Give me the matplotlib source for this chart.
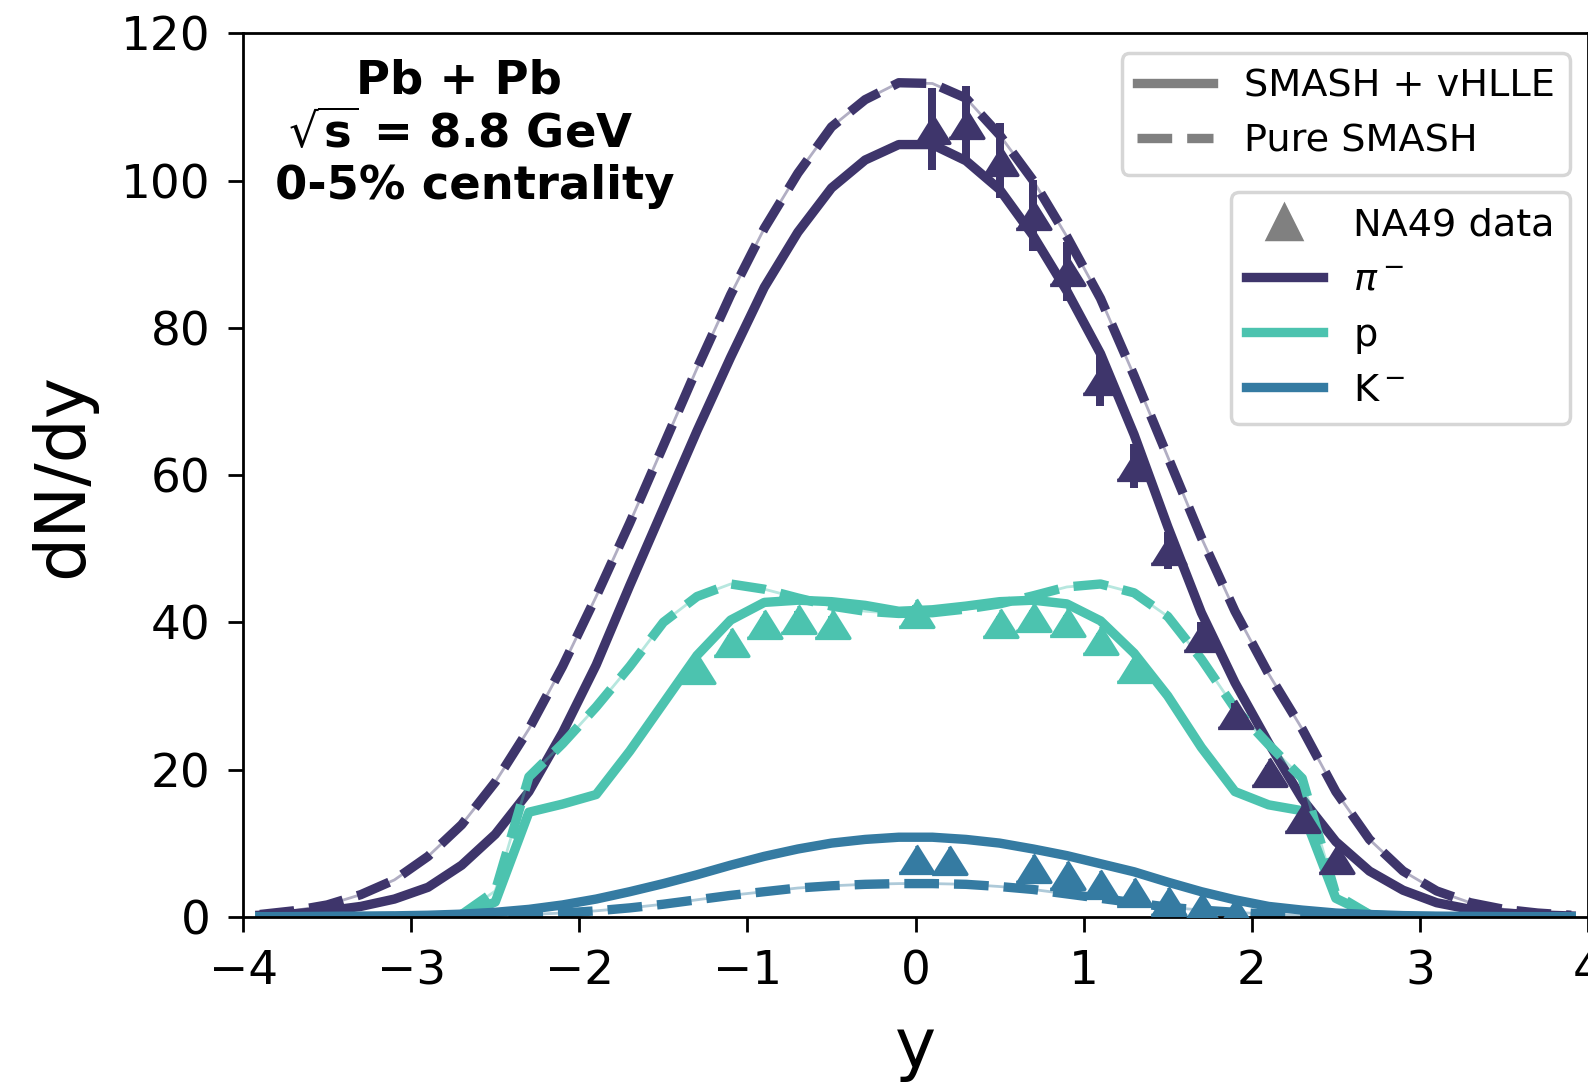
import numpy as np
import matplotlib
matplotlib.use("Agg")
import matplotlib.pyplot as plt
from matplotlib.lines import Line2D

# rapidity grid of the model curves
y_grid = [-3.9, -3.7, -3.5, -3.3, -3.1, -2.9, -2.7, -2.5, -2.3, -2.1,
          -1.9, -1.7, -1.5, -1.3, -1.1, -0.9, -0.7, -0.5, -0.3, -0.1,
          0.1, 0.3, 0.5, 0.7, 0.9, 1.1, 1.3, 1.5, 1.7, 1.9,
          2.1, 2.3, 2.5, 2.7, 2.9, 3.1, 3.3, 3.5, 3.7, 3.9]

# SMASH + vHLLE (solid)
pi_hydro = [0.2, 0.4, 0.8, 1.4, 2.4, 4.0, 7.0, 11.2, 17.0, 25.0,
            34.2, 45.0, 55.5, 66.0, 76.0, 85.5, 93.0, 99.0, 102.8, 104.9,
            104.9, 102.7, 98.8, 92.5, 85.0, 76.5, 65.5, 53.0, 41.3, 31.8,
            23.6, 16.0, 10.2, 6.2, 3.6, 1.9, 1.0, 0.5, 0.25, 0.1]
p_hydro = [0.0, 0.0, 0.0, 0.0, 0.0, 0.0, 0.1, 2.0, 14.2, 15.3,
           16.6, 22.5, 29.0, 35.5, 40.3, 42.7, 43.0, 42.8, 42.3, 41.5,
           41.7, 42.2, 42.8, 43.0, 42.5, 40.2, 35.8, 30.0, 23.0, 17.0,
           15.2, 14.4, 2.5, 0.3, 0.0, 0.0, 0.0, 0.0, 0.0, 0.0]
k_hydro = [0.0, 0.02, 0.05, 0.08, 0.12, 0.2, 0.35, 0.6, 1.0, 1.6,
           2.4, 3.4, 4.5, 5.7, 7.0, 8.2, 9.2, 10.0, 10.5, 10.8,
           10.8, 10.5, 10.0, 9.2, 8.3, 7.2, 6.1, 4.7, 3.4, 2.3,
           1.4, 0.9, 0.5, 0.3, 0.15, 0.08, 0.05, 0.02, 0.01, 0.0]

# Pure SMASH (dashed)
pi_smash = [0.3, 0.8, 1.6, 3.0, 5.0, 8.2, 12.5, 18.3, 25.5, 34.0,
            43.5, 53.5, 64.0, 74.5, 84.5, 93.5, 101.0, 107.3, 111.0, 113.3,
            113.2, 111.2, 106.2, 100.0, 92.4, 84.0, 73.5, 62.5, 51.5, 41.5,
            33.0, 25.5, 17.0, 10.5, 6.2, 3.5, 1.9, 1.0, 0.5, 0.2]
p_smash = [0.0, 0.0, 0.0, 0.0, 0.0, 0.0, 0.3, 3.5, 19.0, 23.5,
           28.5, 34.0, 40.0, 43.5, 45.2, 44.5, 43.3, 42.2, 41.5, 41.2,
           41.3, 41.8, 42.5, 43.6, 44.8, 45.2, 44.0, 40.8, 35.0, 28.3,
           23.4, 18.8, 3.0, 0.3, 0.0, 0.0, 0.0, 0.0, 0.0, 0.0]
k_smash = [0.0, 0.0, 0.01, 0.02, 0.03, 0.05, 0.08, 0.15, 0.3, 0.5,
           0.8, 1.2, 1.7, 2.3, 2.9, 3.4, 3.9, 4.2, 4.4, 4.5,
           4.5, 4.4, 4.1, 3.7, 3.1, 2.5, 1.9, 1.3, 0.9, 0.6,
           0.35, 0.2, 0.1, 0.05, 0.02, 0.01, 0.0, 0.0, 0.0, 0.0]

# NA49 data
pi_y = [0.1, 0.3, 0.5, 0.7, 0.9, 1.1, 1.3, 1.5, 1.7, 1.9, 2.1, 2.3, 2.5]
pi_dndy = [107.0, 107.7, 102.7, 95.3, 87.7, 72.9, 61.2, 49.8, 38.0, 27.6, 19.6, 13.4, 7.8]
pi_err = [5.6, 5.1, 5.1, 4.8, 4.0, 3.5, 3.0, 2.5, 2.0, 1.5, 1.0, 0.7, 0.4]

p_y = [-1.3, -1.1, -0.9, -0.7, -0.5, 0.0, 0.5, 0.7, 0.9, 1.1, 1.3]
p_dndy = [33.7, 37.3, 39.7, 40.5, 39.8, 41.3, 39.9, 40.7, 40.0, 37.6, 33.8]
p_err = [1.0, 1.0, 1.0, 1.0, 1.0, 1.0, 1.0, 1.0, 1.0, 1.0, 1.0]

k_y = [0.0, 0.2, 0.7, 0.9, 1.1, 1.3, 1.5, 1.7, 1.9]
k_dndy = [7.9, 7.7, 6.6, 5.7, 4.5, 3.3, 2.2, 1.3, 0.7]
k_err = [0.4, 0.4, 0.3, 0.3, 0.2, 0.2, 0.1, 0.1, 0.1]

info_lines = ['Pb + Pb', r'$\sqrt{\mathbf{s}}$ = 8.8 GeV', '0-5% centrality']

c_pi = '#3e356b'
c_p = '#4cc3af'
c_k = '#357ba2'

lw = 2.7
tri = [(-1, -0.8), (1, -0.8), (0, 0.8)]

fig = plt.figure(figsize=(6.352, 4.34), dpi=250)
ax = fig.add_axes([0.1531, 0.1551, 0.8469, 0.8141])

species = [(pi_hydro, pi_smash, c_pi), (p_hydro, p_smash, c_p), (k_hydro, k_smash, c_k)]
for hydro, smash, c in species:
    ax.plot(y_grid, smash, color=c, lw=0.8, alpha=0.4)
    ax.plot(y_grid, hydro, color=c, lw=0.8, alpha=0.4)
    ax.plot(y_grid, smash, color=c, lw=lw, ls='--')
    ax.plot(y_grid, hydro, color=c, lw=lw)

for xs, ys, es, c in [(pi_y, pi_dndy, pi_err, c_pi), (p_y, p_dndy, p_err, c_p), (k_y, k_dndy, k_err, c_k)]:
    ax.errorbar(xs, ys, yerr=es, fmt='none', ecolor=c, elinewidth=2.3, capsize=0, zorder=4)
    ax.plot(xs, ys, ls='', marker=tri, ms=10, color=c, zorder=5)

ax.set_xlim(-4, 4)
ax.set_ylim(0, 120)
ax.tick_params(labelsize=13.5, length=4.4, pad=5)
ax.set_xlabel('y', fontsize=20, labelpad=6)
ax.set_ylabel('dN/dy', fontsize=20, labelpad=7)

# the three info lines, each centred on its own spot
for txt, tx, ty in zip(info_lines, [-2.714, -2.705, -2.62], [111.9, 104.4, 97.5]):
    ax.text(tx, ty, txt, ha='center', va='baseline', fontsize=13.4, fontweight='bold')

h1 = [Line2D([], [], color='gray', lw=lw), Line2D([], [], color='gray', lw=lw, ls='--')]
leg1 = ax.legend(h1, ['SMASH + vHLLE', 'Pure SMASH'], loc='upper right', fontsize=11,
                 bbox_to_anchor=(0.9866, 0.9778), borderaxespad=0)
ax.add_artist(leg1)

h2 = [Line2D([], [], color='gray', ls='', marker='^', ms=10),
      Line2D([], [], color=c_pi, lw=lw), Line2D([], [], color=c_p, lw=lw),
      Line2D([], [], color=c_k, lw=lw)]
ax.legend(h2, ['NA49 data', r'$\pi^-$', 'p', r'K$^-$'], loc='upper right', fontsize=11,
          bbox_to_anchor=(0.9866, 0.8204), borderaxespad=0)

fig.savefig('out.png', dpi=250)
